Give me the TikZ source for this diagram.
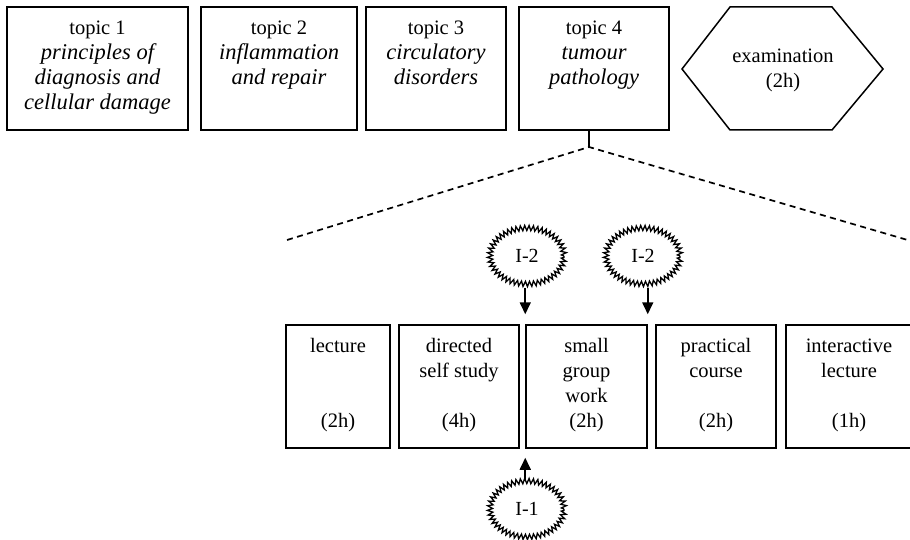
\documentclass[tikz,border=0pt]{standalone}
\usepackage{fontspec}
\setmainfont{Liberation Serif}
\usetikzlibrary{arrows.meta,decorations.pathmorphing,shapes.geometric}
\newcommand{\itl}[1]{{\fontsize{22.5}{25}\selectfont\itshape #1}}
\begin{document}
\begin{tikzpicture}[x=1pt,y=-1pt,
  frame/.style={draw, line width=1.5pt, inner sep=0pt, minimum height=123pt},
  txt/.style={anchor=north, align=center, inner sep=0pt, font=\fontsize{20.5}{25}\selectfont},
  dashline/.style={line width=1.7pt, dash pattern=on 6pt off 4.5pt},
  burst/.style={ellipse, draw, line width=1.3pt, minimum width=74pt, minimum height=56pt,
    inner sep=0pt, decorate, decoration={zigzag, segment length=4.2pt, amplitude=2.6pt},
    font=\fontsize{20}{20}\selectfont},
  arr/.style={line width=1.7pt, -{Triangle[length=12pt,width=11pt]}}]
\fill[white] (0,0) rectangle (910,540);
\useasboundingbox (0,0) rectangle (910,540);

% top row
\node[frame, minimum width=181pt] (t1) at (97.5,68.5) {};
\node[frame, minimum width=156pt] (t2) at (279,68.5) {};
\node[frame, minimum width=140pt] (t3) at (436,68.5) {};
\node[frame, minimum width=150pt] (t4) at (594,68.5) {};
\node[txt] (t1t) at (97.5,21) {topic 1\\\itl{principles of}\\\itl{diagnosis and}\\\itl{cellular damage}};
\node[txt] (t2t) at (279,21) {topic 2\\\itl{inflammation}\\\itl{and repair}};
\node[txt] (t3t) at (436,21) {topic 3\\\itl{circulatory}\\\itl{disorders}};
\node[txt] (t4t) at (594,21) {topic 4\\\itl{tumour}\\\itl{pathology}};
\draw[line width=1.5pt] (682,69) -- (730,7) -- (832,7) -- (883,69) -- (832,130) -- (730,130) -- cycle;
\node[align=center, inner sep=0pt, font=\fontsize{20.5}{25}\selectfont] (exam) at (783,70) {examination\\(2h)};

% fork
\coordinate (fork) at (589,147);
\coordinate (dl) at (287,240);
\coordinate (dr) at (911,241);
\draw[line width=1.8pt] (fork |- t4.south) -- (fork);
\draw[dashline] (dl) -- (fork) -- (dr);

% bottom row
\node[frame, minimum width=104pt] (lec) at (338,386.5) {};
\node[frame, minimum width=120pt] (dss) at (459,386.5) {};
\node[frame, minimum width=121pt] (sg) at (586.5,386.5) {};
\node[frame, minimum width=120pt] (pc) at (716,386.5) {};
\node[frame, minimum width=126pt] (il) at (849,386.5) {};
\node[txt] (lect) at (338,338.5) {lecture\\~\\~\\(2h)};
\node[txt] (dsst) at (459,338.5) {directed\\self study\\~\\(4h)};
\node[txt] (sgt) at (586.5,338.5) {small\\group\\work\\(2h)};
\node[txt] (pct) at (716,338.5) {practical\\course\\~\\(2h)};
\node[txt] (ilt) at (849,338.5) {interactive\\lecture\\~\\(1h)};

% bursts
\node[burst] (i2a) at (527,256) {I-2};
\node[burst] (i2b) at (643,256) {I-2};
\node[burst] (i1) at (527,509) {I-1};
\draw[arr, shorten <=3pt, shorten >=10pt] (sg.north west |- i2a.south) -- (sg.north west);
\draw[arr, shorten <=3pt, shorten >=10pt] (sg.north east |- i2b.south) -- (sg.north east);
\draw[arr, shorten <=-1pt, shorten >=9pt] (sg.south west |- i1.north) -- (sg.south west);
\end{tikzpicture}
\end{document}
